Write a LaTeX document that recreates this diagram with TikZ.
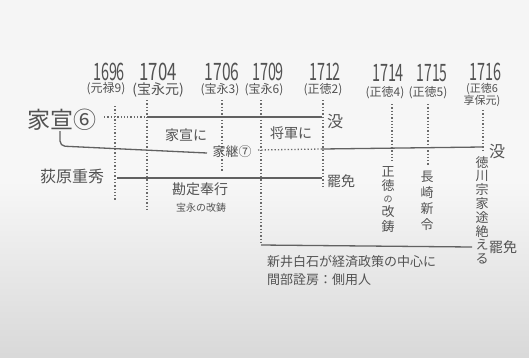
\documentclass[tikz,border=0pt]{standalone}
\usepackage{fontspec}
\usepackage{graphicx}
\newfontfamily\jp{Noto Sans CJK JP}
\begin{document}
\begin{tikzpicture}[x=1pt,y=-1pt,
  ink/.style={text=black!68},
  yr/.style={ink,font=\jp\fontsize{24}{24}\selectfont,inner sep=0},
  era/.style={ink,font=\jp\fontsize{12}{12}\selectfont,inner sep=0,align=center},
  lbl/.style={ink,font=\jp\fontsize{14}{14}\selectfont,inner sep=0},
  small/.style={ink,font=\jp\fontsize{10}{10}\selectfont,inner sep=0},
  vtext/.style={ink,font=\jp\fontsize{13}{14.5}\selectfont,inner sep=0,align=center,anchor=north},
  solidline/.style={draw=black!62,line width=1.3pt},
  dotline/.style={draw=black!58,line width=1.3pt,dotted}]
\useasboundingbox (0,0) rectangle (529,357);
\shade[top color=black!4, bottom color=black!15, middle color=black!3] (0,0) rectangle (529,357);

% years
\node[yr] (y1696) at (109,72) {\scalebox{0.6}[1]{1696}};
\node[yr] (y1704) at (158,72) {\scalebox{0.7}[1]{1704}};
\node[yr] (y1706) at (222,72) {\scalebox{0.65}[1]{1706}};
\node[yr] (y1709) at (268,72) {\scalebox{0.6}[1]{1709}};
\node[yr] (y1712) at (325,72) {\scalebox{0.6}[1]{1712}};
\node[yr] (y1714) at (388,73) {\scalebox{0.6}[1]{1714}};
\node[yr] (y1715) at (432,73) {\scalebox{0.58}[1]{1715}};
\node[yr] (y1716) at (485,72) {\scalebox{0.6}[1]{1716}};
% eras
\node[era] (e1696) at (106,89) {(元禄9)};
\node[era,font=\jp\fontsize{14}{14}\selectfont] (e1704) at (158,90) {(宝永元)};
\node[era] (e1706) at (220,90) {(宝永3)};
\node[era] (e1709) at (264,90) {(宝永6)};
\node[era] (e1712) at (323,90) {(正徳2)};
\node[era] (e1714) at (385,93) {(正徳4)};
\node[era] (e1715) at (428,93) {(正徳5)};
\node[era,font=\jp\fontsize{11}{12}\selectfont] (e1716) at (482,95) {(正徳6\\ 享保元)};

% vertical dotted guides
\coordinate (t1696) at (115,106); \coordinate (b1696) at (115,200);
\coordinate (t1704) at (147,100); \coordinate (b1704) at (147,212);
\coordinate (t1706) at (222,100); \coordinate (b1706) at (222,172);
\coordinate (t1709) at (261,100); \coordinate (b1709) at (261,245);
\coordinate (t1712) at (323,100); \coordinate (b1712) at (323,188);
\coordinate (t1714) at (392,104); \coordinate (b1714) at (392,163);
\coordinate (t1715) at (428,104); \coordinate (b1715) at (428,165);
\coordinate (t1716) at (483,110); \coordinate (b1716) at (483,150);
\foreach \y in {1696,1704,1706,1709,1712,1714,1715,1716}
  \draw[dotline] (t\y) -- (b\y);

% Ienobu row
\node[ink,font=\jp\fontsize{23}{23}\selectfont,inner sep=0,anchor=west] (ienobu) at (27,120) {家宣⑥};
\coordinate (i0) at (104,117);
\coordinate (i1) at (147,117);
\coordinate (i2) at (322,117);
\draw[dotline] (i0) -- (i1);
\draw[solidline] (i1) -- (i2);
\node[lbl] (ien2) at (186,135) {家宣に};
\node[lbl] (shogun) at (291,133) {将軍に};
\node[lbl,font=\jp\fontsize{16}{16}\selectfont] (bo1) at (335,121) {没};

% Ietsugu
\coordinate (k0) at (60,131);
\coordinate (k1) at (60,146);
\coordinate (k2) at (207,153);
\draw[solidline,rounded corners=5pt] (k0) -- (k1) -- (k2);
\node[lbl,font=\jp\fontsize{13}{13}\selectfont] (ietsugu) at (232,152) {家継⑦};
\coordinate (j0) at (258,150);
\coordinate (j1) at (322,149);
\coordinate (j2) at (482,147);
\draw[dotline] (j0) -- (j1);
\draw[solidline] (j1) -- (j2);
\node[lbl,font=\jp\fontsize{16}{16}\selectfont] (bo2) at (497,151) {没};

% Ogiwara
\node[lbl,font=\jp\fontsize{16}{16}\selectfont] (ogiwara) at (72,176) {荻原重秀};
\coordinate (o0) at (117,178);
\coordinate (o1) at (322,178);
\draw[solidline] (o0) -- (o1);
\node[lbl] (himen1) at (341,181) {罷免};
\node[lbl] (kanjo) at (200,189) {勘定奉行};
\node[small] (hoei) at (201,208) {宝永の改鋳};

% vertical notes
\node[vtext] (shotoku) at (388,166) {正\\徳\\[-3pt]{\fontsize{9}{9}\selectfont の}\\改\\鋳};
\node[vtext,font=\jp\fontsize{13}{16}\selectfont] (nagasaki) at (427,171) {長\\崎\\新\\令};
\node[vtext,font=\jp\fontsize{13}{13.8}\selectfont] (soke) at (482,156) {徳\\川\\宗\\家\\途\\絶\\え\\る};

% Hakuseki period
\coordinate (h0) at (261,245);
\coordinate (h1) at (472,247);
\draw[solidline] (h0) -- (h1);
\node[lbl] (himen2) at (503,247) {罷免};
\node[lbl,font=\jp\fontsize{13}{13}\selectfont,anchor=west] (arai) at (267,262) {新井白石が経済政策の中心に};
\node[lbl,font=\jp\fontsize{13}{13}\selectfont,anchor=west] (manabe) at (267,280) {間部詮房：側用人};
\end{tikzpicture}
\end{document}
